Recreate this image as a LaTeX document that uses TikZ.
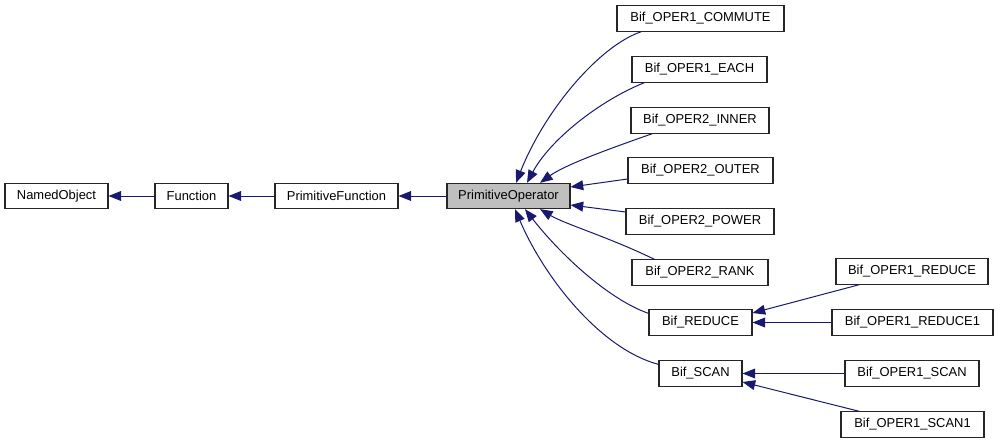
\documentclass[tikz,border=0pt]{standalone}
\usepackage{fontspec}
\setmainfont{Liberation Sans}
\usetikzlibrary{arrows.meta}
\definecolor{edgeblue}{RGB}{25,25,112}
\definecolor{pofill}{RGB}{191,191,191}
\tikzset{
  cls/.style={draw=black!85, line width=0.8pt, fill=white, inner sep=0pt,
    minimum height=18.9pt, font=\fontsize{9.7}{11.6}\selectfont, anchor=center},
  bw/.style={minimum width=#1*0.75pt},
  edge/.style={draw=edgeblue, line width=0.75pt,
    -{Triangle[length=9.5pt,width=7.4pt,fill=edgeblue]}},
}
\begin{document}
\begin{tikzpicture}[x=0.75pt,y=-0.75pt]
\useasboundingbox (0,0) rectangle (1000,443);
% main chain
\node[cls,bw=103] (named) at (56.5,196) {NamedObject};
\node[cls,bw=73] (func) at (191.5,196) {Function};
\node[cls,bw=123] (pfunc) at (336.5,196) {PrimitiveFunction};
\node[cls,bw=123,fill=pofill] (po) at (508.5,196) {PrimitiveOperator};
% right column
\node[cls,bw=167] (commute) at (700.5,18.5) {Bif\_OPER1\_COMMUTE};
\node[cls,bw=135] (each) at (699.5,69.5) {Bif\_OPER1\_EACH};
\node[cls,bw=138] (inner) at (700,120.5) {Bif\_OPER2\_INNER};
\node[cls,bw=145] (outer) at (700.5,170.5) {Bif\_OPER2\_OUTER};
\node[cls,bw=148] (power) at (700,221.5) {Bif\_OPER2\_POWER};
\node[cls,bw=136] (rank) at (700,272.5) {Bif\_OPER2\_RANK};
\node[cls,bw=103] (reduce) at (700.5,322.5) {Bif\_REDUCE};
\node[cls,bw=83] (scan) at (700.5,373.5) {Bif\_SCAN};
% far right
\node[cls,bw=152] (oreduce) at (912,271.5) {Bif\_OPER1\_REDUCE};
\node[cls,bw=161] (oreduceone) at (912.5,322.5) {Bif\_OPER1\_REDUCE1};
\node[cls,bw=134] (oscan) at (912,373.5) {Bif\_OPER1\_SCAN};
\node[cls,bw=143] (oscanone) at (912.5,424.5) {Bif\_OPER1\_SCAN1};
% chain edges
\draw[edge] (func.west) -- (named.east);
\draw[edge] (pfunc.west) -- (func.east);
\draw[edge] (po.west) -- (pfunc.east);
% edges into PrimitiveOperator
\draw[edge] ([xshift=25*0.75pt]commute.south west) .. controls +(-42,14) and +(29,-73) .. ([xshift=7.5*0.75pt]po.north);
\draw[edge] ([xshift=13*0.75pt]each.south west) .. controls +(-45,18) and +(23,-43) .. ([xshift=18.5*0.75pt]po.north);
\draw[edge] ([xshift=22*0.75pt]inner.south west) .. controls +(-43,15) and +(25,-18) .. ([xshift=31.5*0.75pt]po.north);
\draw[edge] ([yshift=-8.5*0.75pt]outer.west) -- ([yshift=9*0.75pt]po.east);
\draw[edge] ([yshift=9.5*0.75pt]power.west) -- ([yshift=-9*0.75pt]po.east);
\draw[edge] ([xshift=23*0.75pt]rank.north west) .. controls +(-45,-22) and +(25,15) .. ([xshift=31.5*0.75pt]po.south);
\draw[edge] ([yshift=-4*0.75pt]reduce.north west) .. controls +(-40,-14) and +(35,45) .. ([xshift=16.5*0.75pt]po.south);
\draw[edge] ([yshift=-4*0.75pt]scan.north west) .. controls +(-57,-15) and +(30,70) .. ([xshift=6.5*0.75pt]po.south);
% reduce / scan children
\draw[edge] ([xshift=24*0.75pt]oreduce.south west) -- ([yshift=9.5*0.75pt]reduce.east);
\draw[edge] (oreduceone.west) -- (reduce.east);
\draw[edge] (oscan.west) -- (scan.east);
\draw[edge] ([xshift=19*0.75pt]oscanone.north west) -- ([yshift=-8.5*0.75pt]scan.east);
\end{tikzpicture}
\end{document}
